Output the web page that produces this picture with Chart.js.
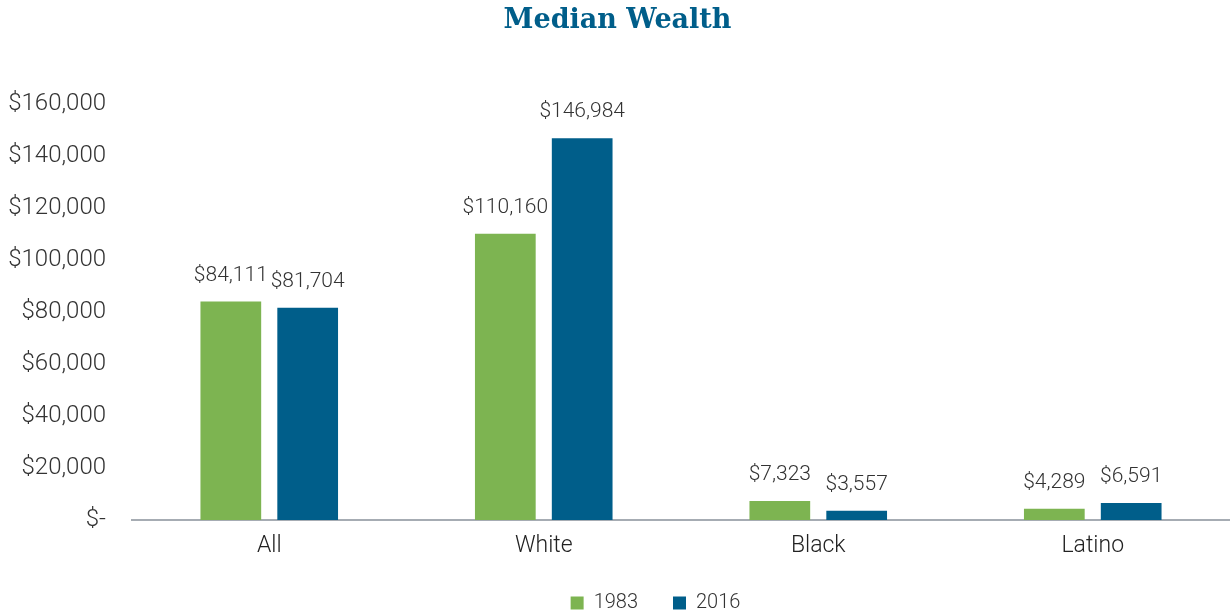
<!DOCTYPE html>
<html>
<head>
<meta charset="utf-8">
<script src="https://cdn.jsdelivr.net/npm/chart.js@4"></script>
<style>
  html, body { margin: 0; padding: 0; background: #fff; }
  #wrap { width: 1230px; height: 613px; }
</style>
</head>
<body>
<div id="wrap"><canvas id="wealthChart"></canvas></div>
<script>
// Data
const groups = ['All', 'White', 'Black', 'Latino'];
const wealth1983 = [84111, 110160, 7323, 4289];
const wealth2016 = [81704, 146984, 3557, 6591];
const yTicks = [0, 20000, 40000, 60000, 80000, 100000, 120000, 140000, 160000];

const textFont = "'Roboto', sans-serif";

function money(v) {
    if (v === 0) return '$-';
    return '$' + v.toLocaleString('en-US');
}

// labels above each bar
const barLabels = {
    id: 'barLabels',
    afterDatasetsDraw(chart) {
        const ctx = chart.ctx;
        ctx.save();
        ctx.font = '300 21px ' + textFont;
        ctx.fillStyle = '#333333';
        ctx.textAlign = 'center';
        ctx.textBaseline = 'alphabetic';
        chart.data.datasets.forEach((ds, i) => {
            chart.getDatasetMeta(i).data.forEach((bar, j) => {
                ctx.fillText(money(ds.data[j]), bar.x, bar.y - 21);
            });
        });
        ctx.restore();
    }
};

// the legend sits a little right of centre in the original
const legendShift = {
    id: 'legendShift',
    afterLayout(chart) {
        chart.legend.left += 38;
        chart.legend.right += 38;
    }
};

new Chart(document.getElementById('wealthChart').getContext('2d'), {
    type: 'bar',
    data: {
        labels: groups,
        datasets: [
            {
                label: '1983',
                data: wealth1983,
                backgroundColor: '#7db451',
                categoryPercentage: 0.56,
                barPercentage: 0.79
            },
            {
                label: '2016',
                data: wealth2016,
                backgroundColor: '#005e8a',
                categoryPercentage: 0.56,
                barPercentage: 0.79
            }
        ]
    },
    options: {
        responsive: true,
        maintainAspectRatio: false,
        animation: false,
        layout: { padding: { left: 5, right: 0, top: 0, bottom: -10 } },
        plugins: {
            title: {
                display: true,
                text: 'Median Wealth',
                color: '#005e8a',
                font: { family: "'DejaVu Serif', serif", size: 27, weight: 'bold' },
                padding: { top: 5, bottom: 67 }
            },
            legend: {
                display: true,
                position: 'bottom',
                labels: {
                    color: '#333333',
                    font: { family: textFont, size: 20, weight: '300' },
                    boxWidth: 13,
                    boxHeight: 13,
                    padding: 35
                }
            },
            tooltip: { enabled: false }
        },
        scales: {
            x: {
                grid: { display: false, drawTicks: false },
                border: { display: true, color: '#a6acb3', width: 2 },
                afterFit: axis => { axis.height = 38; },
                ticks: {
                    color: '#222222',
                    font: { family: textFont, size: 23, weight: '300' },
                    padding: 12
                }
            },
            y: {
                min: 0,
                max: 160000,
                grid: { display: false, drawTicks: false },
                border: { display: false },
                afterFit: axis => { axis.width = 127; },
                afterBuildTicks: axis => {
                    axis.ticks = yTicks.map(v => ({ value: v }));
                },
                ticks: {
                    color: '#333333',
                    font: { family: textFont, size: 24, weight: '300' },
                    padding: 26,
                    callback: v => money(v)
                }
            }
        }
    },
    plugins: [barLabels, legendShift]
});
</script>
</body>
</html>
